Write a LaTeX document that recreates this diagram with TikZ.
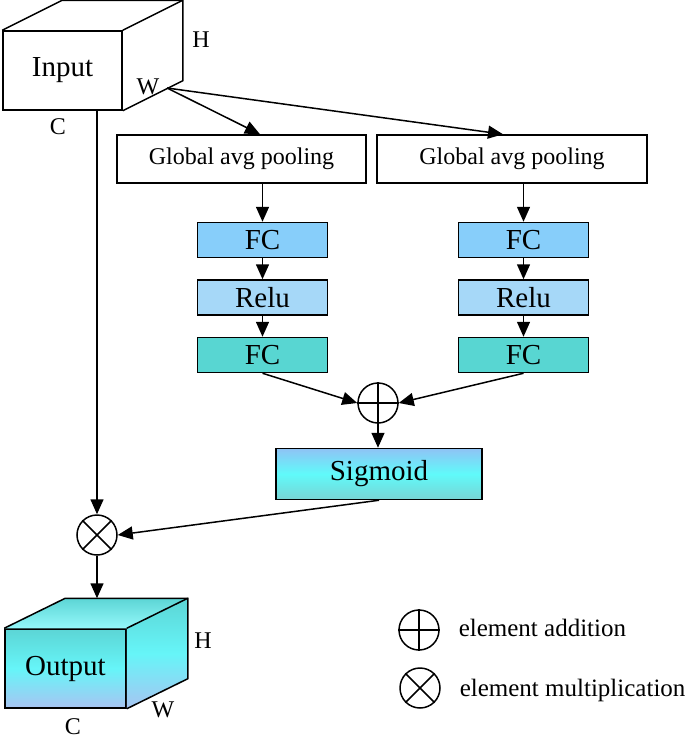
\documentclass[tikz,border=0pt]{standalone}
\usepackage{fontspec}
\setmainfont{Liberation Serif}
\usetikzlibrary{arrows.meta}
\definecolor{fcblue}{RGB}{135,206,250}
\definecolor{relublue}{RGB}{166,216,248}
\definecolor{fcteal}{RGB}{88,214,210}
\definecolor{sigtop}{RGB}{143,195,245}
\definecolor{sigmid}{RGB}{96,250,250}
\definecolor{sigbot}{RGB}{120,212,212}
\definecolor{outtop}{RGB}{92,213,213}
\definecolor{outmid}{RGB}{102,245,248}
\definecolor{outbot}{RGB}{168,196,242}
\tikzset{
  poolbox/.style={draw, minimum height=48pt, inner sep=0pt, font=\fontsize{24}{28}\selectfont},
  layerbox/.style={draw, minimum width=130pt, minimum height=35pt, inner sep=0pt, font=\fontsize{29}{32}\selectfont},
  opnode/.style={draw, circle, minimum size=40pt, inner sep=0pt},
  dimlabel/.style={inner sep=0pt, font=\fontsize{24}{28}\selectfont},
  keytext/.style={anchor=base west, inner sep=0pt, font=\fontsize{25}{30}\selectfont},
  arr/.style={-{Triangle[length=15pt,width=13pt]}}
}
\begin{document}
\begin{tikzpicture}[x=1pt, y=-1pt, line width=1.5pt]
        \useasboundingbox (0,0) rectangle (685,744);
        % input cube
        \node[draw, minimum width=119pt, minimum height=79pt, font=\fontsize{29}{32}\selectfont] (input) at (62.5,70.5) {Input};
        \draw (input.north west) -- ++(60,-30) -- ([shift={(60,-30)}]input.north east) coordinate (inbr)
              -- ([shift={(60,-30)}]input.south east) -- (input.south east);
        \draw (inbr) -- (input.north east);
        \coordinate (inw) at (167,88);
        \node[dimlabel] (inh) at (201,40)  {H};
        \node[dimlabel] (inwl) at (148,87) {W};
        \node[dimlabel] (inc) at (58,127)  {C};

        % two pooling branches
        \node[poolbox, minimum width=249pt] (poola) at (241.5,159) {Global avg pooling};
        \node[poolbox, minimum width=270pt] (poolb) at (512,159)   {Global avg pooling};
        \draw[arr] (inw) -- ([xshift=18.5pt]poola.north);
        \draw[arr] (inw) -- ([xshift=-9pt]poolb.north);

        \node[layerbox, fill=fcblue]   (fca1) at (262.5,240) {FC};
        \node[layerbox, fill=relublue] (relua) at (262.5,297.5) {Relu};
        \node[layerbox, fill=fcteal]   (fca2) at (262.5,355) {FC};
        \node[layerbox, fill=fcblue]   (fcb1) at (523.5,240) {FC};
        \node[layerbox, fill=relublue] (relub) at (523.5,297.5) {Relu};
        \node[layerbox, fill=fcteal]   (fcb2) at (523.5,355) {FC};

        \draw[arr] (poola.south -| fca1) -- (fca1);
        \draw[arr] (fca1) -- (relua);
        \draw[arr] (relua) -- (fca2);
        \draw[arr] (poolb.south -| fcb1) -- (fcb1);
        \draw[arr] (fcb1) -- (relub);
        \draw[arr] (relub) -- (fcb2);

        % addition and sigmoid
        \node[opnode] (add) at (378,403) {};
        \draw (add.north) -- (add.south) (add.west) -- (add.east);
        \draw[arr] (fca2.south) -- (add.west);
        \draw[arr] (fcb2.south) -- (add.east);
        \node[layerbox, minimum width=206pt, minimum height=51pt, top color=sigtop, bottom color=sigbot, middle color=sigmid] (sig) at (379,474) {Sigmoid};
        \draw[arr] (add.south) -- (add.south |- sig.north);

        % multiplication
        \node[opnode] (mul) at (97,535) {};
        \draw (mul.north west) -- (mul.south east) (mul.north east) -- (mul.south west);
        \draw[arr] (input.south -| mul) -- (mul.north);
        \draw[arr] (sig.south) -- (mul.east);

        % output cube
        \node[draw, minimum width=121pt, minimum height=79pt, font=\fontsize{29}{32}\selectfont,
              top color=outtop, bottom color=outbot, middle color=outmid] (output) at (65.5,668.5) {Output};
        \shade[top color=outtop, bottom color=outmid!70!white] (output.north west) -- ++(61,-30)
              -- ([shift={(61,-30)}]output.north east) -- (output.north east) -- cycle;
        \shade[top color=outtop, bottom color=outbot, middle color=outmid] (output.north east)
              -- ([shift={(61,-30)}]output.north east) -- ([shift={(61,-30)}]output.south east) -- (output.south east) -- cycle;
        \draw (output.north west) -- ++(61,-30) coordinate (outbl) -- ([shift={(61,-30)}]output.north east) coordinate (outbr)
              -- ([shift={(61,-30)}]output.south east) -- (output.south east);
        \draw (outbr) -- (output.north east);
        \draw[arr] (mul.south) -- (mul.south |- outbl);
        \node[dimlabel] (outh) at (203,641) {H};
        \node[dimlabel] (outwl) at (163,710) {W};
        \node[dimlabel] (outc) at (73,727)  {C};

        % legend
        \node[opnode] (keyadd) at (419,630) {};
        \draw (keyadd.north) -- (keyadd.south) (keyadd.west) -- (keyadd.east);
        \node[keytext] (keyaddtxt) at (458,636) {element addition};
        \node[opnode] (keymul) at (420,688) {};
        \draw (keymul.north west) -- (keymul.south east) (keymul.north east) -- (keymul.south west);
        \node[keytext] (keymultxt) at (459,696) {element multiplication};
\end{tikzpicture}
\end{document}
